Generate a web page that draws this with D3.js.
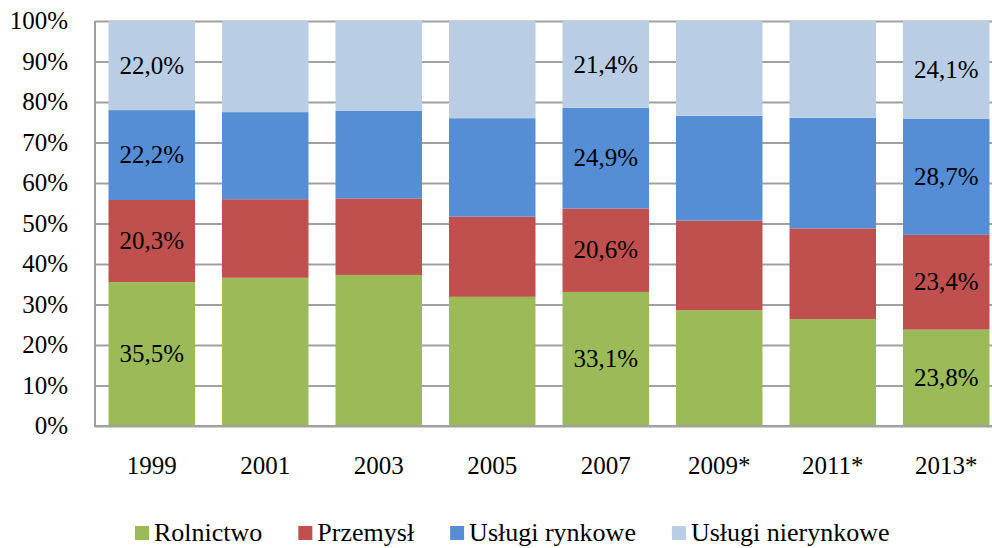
<!DOCTYPE html>
<html>
<head>
<meta charset="utf-8">
<script src="https://cdn.jsdelivr.net/npm/d3@7"></script>
<style>
body { margin: 0; background: #fff; }
svg { display: block; }
text { font-family: "Liberation Serif", "Times New Roman", serif; }
</style>
</head>
<body>
<div class="canvas"></div>
<script>
var years = ["1999", "2001", "2003", "2005", "2007", "2009*", "2011*", "2013*"];
var rolnictwo = [35.5, 36.6, 37.3, 31.9, 33.1, 28.6, 26.4, 23.8];
var przemysl = [20.3, 19.4, 18.9, 19.8, 20.6, 22.1, 22.4, 23.4];
var uslugiRynkowe = [22.2, 21.5, 21.6, 24.3, 24.9, 25.9, 27.3, 28.7];
var uslugiNierynkowe = [22.0, 22.5, 22.2, 24.0, 21.4, 23.4, 23.9, 24.1];
var seriesNames = ["Rolnictwo", "Przemysł", "Usługi rynkowe", "Usługi nierynkowe"];
var seriesColors = ["#9BBB59", "#C0504D", "#558ED5", "#B9CDE5"];
var labelledYears = ["1999", "2007", "2013*"];
var yTicks = [0, 10, 20, 30, 40, 50, 60, 70, 80, 90, 100];

(function() {
var W = 992, H = 548;
var plotLeft = 95, plotTop = 21, plotBottom = 426, plotRight = 1003;

var table = years.map(function(y, i) {
  return {year: y, s0: rolnictwo[i], s1: przemysl[i], s2: uslugiRynkowe[i], s3: uslugiNierynkowe[i]};
});
var keys = ["s0", "s1", "s2", "s3"];

var svg = d3.select(".canvas").append("svg")
  .attr("width", W)
  .attr("height", H);

var x = d3.scaleBand().domain(years).range([plotLeft, plotRight])
  .paddingInner(0.238).paddingOuter(0.119);
var y = d3.scaleLinear().domain([0, 100]).range([plotBottom, plotTop]);

// gridlines
svg.append("g")
  .attr("transform", "translate(" + plotLeft + ",0)")
  .call(d3.axisLeft(y).tickValues(yTicks).tickSize(-(W - plotLeft)).tickFormat(""))
  .call(function(g) {
    g.select(".domain").remove();
    g.selectAll("line").attr("stroke", "#A0A0A0").attr("stroke-width", 2);
  });

var stacked = d3.stack().keys(keys)(table);

var layers = svg.selectAll(".layer").data(stacked).enter().append("g")
  .attr("class", "layer")
  .attr("fill", function(d, i) { return seriesColors[i]; });

layers.selectAll("rect").data(function(d) { return d; }).enter().append("rect")
  .attr("x", function(d) { return x(d.data.year); })
  .attr("width", x.bandwidth())
  .attr("y", function(d) { return y(d[1]); })
  .attr("height", function(d) { return y(d[0]) - y(d[1]); });

var fmt = d3.format(".1f");
layers.selectAll("text").data(function(d) {
    return d.filter(function(p) { return labelledYears.indexOf(p.data.year) >= 0; });
  }).enter().append("text")
  .attr("x", function(d) { return x(d.data.year) + x.bandwidth() / 2; })
  .attr("y", function(d) { return (y(d[0]) + y(d[1])) / 2; })
  .attr("dy", "0.33em")
  .attr("text-anchor", "middle")
  .attr("font-size", "25px")
  .attr("fill", "#000")
  .text(function(d) { return fmt(d[1] - d[0]).replace(".", ",") + "%"; });

// axis lines
svg.append("line")
  .attr("x1", plotLeft).attr("x2", plotLeft).attr("y1", plotTop).attr("y2", plotBottom + 1)
  .attr("stroke", "#A0A0A0").attr("stroke-width", 2);
svg.append("line")
  .attr("x1", plotLeft).attr("x2", W).attr("y1", plotBottom).attr("y2", plotBottom)
  .attr("stroke", "#A0A0A0").attr("stroke-width", 2);

// y tick labels
svg.append("g").selectAll("text").data(yTicks).enter().append("text")
  .attr("x", 68)
  .attr("y", function(d) { return y(d); })
  .attr("dy", "0.33em")
  .attr("text-anchor", "end")
  .attr("font-size", "25px")
  .attr("fill", "#000")
  .text(function(d) { return d + "%"; });

// x labels
svg.append("g").selectAll("text").data(years).enter().append("text")
  .attr("x", function(d) { return x(d) + x.bandwidth() / 2; })
  .attr("y", 474)
  .attr("text-anchor", "middle")
  .attr("font-size", "25px")
  .attr("fill", "#000")
  .text(function(d) { return d; });

// legend
var legend = svg.append("g");
var items = legend.selectAll("g").data(seriesNames).enter().append("g");
items.append("rect")
  .attr("width", 14).attr("height", 14)
  .attr("y", 526)
  .attr("fill", function(d, i) { return seriesColors[i]; });
items.append("text")
  .attr("x", 19)
  .attr("y", 541)
  .attr("font-size", "26px")
  .attr("fill", "#000")
  .text(function(d) { return d; });

var pos = 135, gap = 36;
items.each(function() {
  d3.select(this).attr("transform", "translate(" + pos + ",0)");
  pos += 19 + d3.select(this).select("text").node().getComputedTextLength() + gap;
});
})();
</script>
</body>
</html>
